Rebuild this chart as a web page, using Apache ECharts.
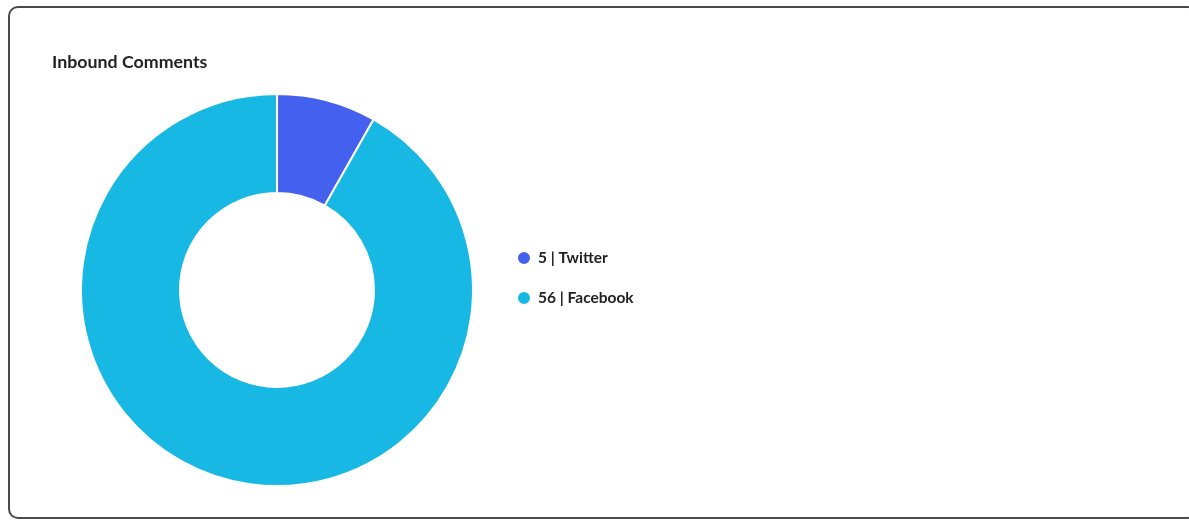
<!DOCTYPE html>
<html>
<head>
<meta charset="utf-8">
<script src="https://cdn.jsdelivr.net/npm/echarts@6/dist/echarts.min.js"></script>
<style>
html,body{margin:0;padding:0;background:#fff;width:1189px;height:520px;overflow:hidden;}
#card{position:absolute;left:8px;top:6px;width:1190px;height:513px;border:2px solid #4a4a4a;border-radius:10px;box-sizing:border-box;}
#chart{position:absolute;left:0;top:0;width:1189px;height:520px;}
</style>
</head>
<body>
<div id="card"></div>
<div id="chart"></div>
<script>
const categories = ['Twitter', 'Facebook'];
const values = [5, 56];
const colors = ['#4361EE', '#17B9E4'];

const chart = echarts.init(document.getElementById('chart'), null, {renderer: 'canvas'});
const data = categories.map((c, i) => ({name: c, value: values[i], itemStyle: {color: colors[i]}}));
chart.setOption({
  animation: false,
  title: {
    text: 'Inbound Comments',
    left: 52, top: 52, padding: 0,
    textStyle: {fontFamily: 'Lato', fontSize: 17.8, fontWeight: 'bold', color: '#222', lineHeight: 20}
  },
  legend: {
    orient: 'vertical',
    left: 516, top: 250, padding: 0,
    icon: 'circle',
    itemWidth: 14, itemHeight: 14, itemGap: 24,
    data: categories,
    formatter: function (name) {
      const i = categories.indexOf(name);
      return values[i] + ' | ' + name;
    },
    textStyle: {fontFamily: 'Lato', fontSize: 15.5, fontWeight: 'bold', color: '#222', lineHeight: 16, padding: [0, 0, 0, 2]}
  },
  series: [{
    type: 'pie',
    center: [277, 290],
    radius: [97, 196],
    startAngle: 90,
    clockwise: true,
    label: {show: false},
    labelLine: {show: false},
    emphasis: {disabled: true},
    itemStyle: {borderColor: '#fff', borderWidth: 2},
    data: data
  }]
});
</script>
</body>
</html>
